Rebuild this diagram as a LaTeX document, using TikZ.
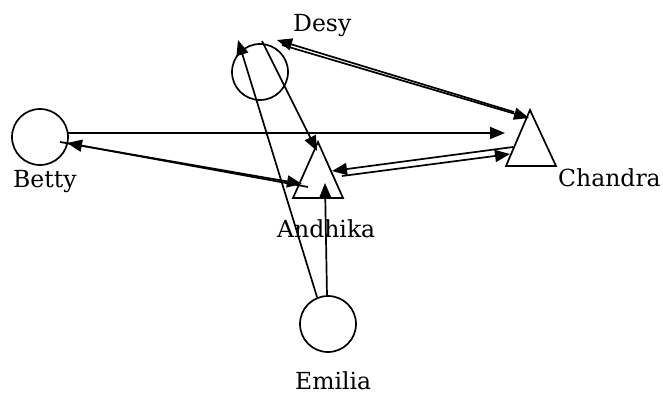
\documentclass[tikz,border=0pt]{standalone}
\usepackage{fontspec}
\setmainfont{DejaVu Serif}
\usetikzlibrary{arrows.meta}
\tikzset{
  person/.style={circle,draw,line width=1.7pt,minimum size=56pt,inner sep=0pt},
  tri/.style={draw,line width=1.7pt,line join=miter},
  lbl/.style={anchor=base west,inner sep=0pt,font=\fontsize{23.5}{27}\selectfont},
  link/.style={line width=1.7pt,-{Triangle[length=15pt,width=12pt]}},
}
\begin{document}
\begin{tikzpicture}[x=1pt,y=-1pt]
\useasboundingbox (0,0) rectangle (663,396);
% persons (circles)
\node[person] (desy) at (260,72) {};
\node[person] (betty) at (40,137) {};
\node[person] (emilia) at (328,324) {};
% triangles
\draw[tri] (318,142) coordinate (andhikaTop) -- (293,198) -- (343,198) -- cycle;
\draw[tri] (530,110) coordinate (chandraTop) -- (506,166) -- (556,166) -- cycle;
% labels
\node[lbl] (ldesy) at (293,32) {Desy};
\node[lbl] (lbetty) at (13,187) {Betty};
\node[lbl] (landhika) at (277,237) {Andhika};
\node[lbl] (lchandra) at (558,186) {Chandra};
\node[lbl] (lemilia) at (295,389) {Emilia};
% connector ends
\coordinate (e1) at (317,297); \coordinate (d1) at (238,40);
\coordinate (e2) at (327,296); \coordinate (a2) at (325,183);
\coordinate (d3) at (262,41);  \coordinate (a3) at (317,151);
\coordinate (c4) at (514,112); \coordinate (d4) at (277,40);
\coordinate (d5) at (282,45);  \coordinate (c5) at (529,118);
\coordinate (b6) at (68,133);  \coordinate (c6) at (505,133);
\coordinate (b7) at (60,142);  \coordinate (a7) at (302,184);
\coordinate (a8) at (308,187); \coordinate (b8) at (67,143);
\coordinate (c9) at (513,147); \coordinate (a9) at (332,171);
\coordinate (a10) at (342,176); \coordinate (c10) at (510,154);
% connectors
\draw[link] (e1) -- (d1);
\draw[link] (e2) -- (a2);
\draw[link] (d3) -- (a3);
\draw[link] (c4) -- (d4);
\draw[link] (d5) -- (c5);
\draw[link] (b6) -- (c6);
\draw[link] (b7) -- (a7);
\draw[link] (a8) -- (b8);
\draw[link] (c9) -- (a9);
\draw[link] (a10) -- (c10);
\end{tikzpicture}
\end{document}
